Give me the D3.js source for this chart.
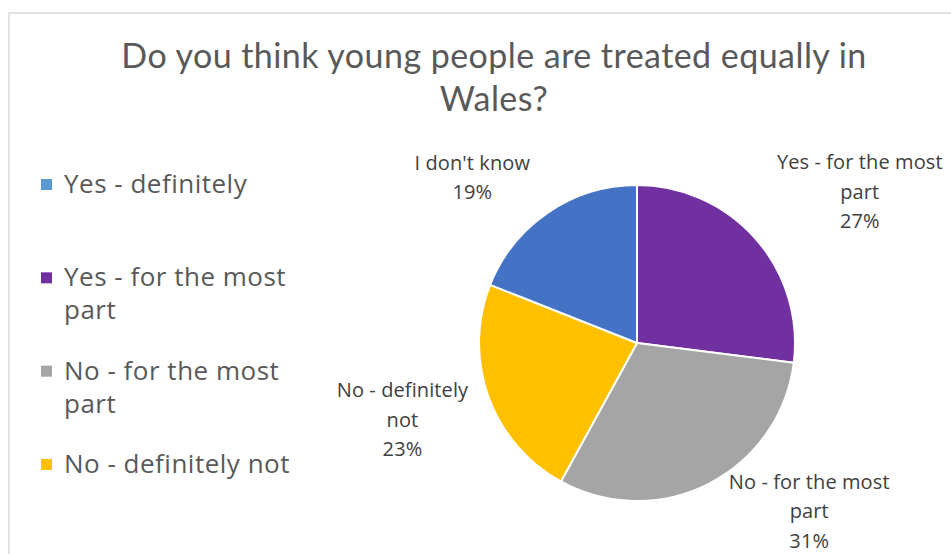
<!DOCTYPE html>
<html>
<head>
<meta charset="utf-8">
<script src="https://cdn.jsdelivr.net/npm/d3@7"></script>
<style>
  html, body { margin: 0; padding: 0; background: #ffffff; }
  svg { display: block; }
  text { font-family: "Open Sans", Lato, sans-serif; }
  .title { font-family: Lato, "Open Sans", sans-serif; }
</style>
</head>
<body>
<svg id="chart" width="951" height="554"></svg>
<script>
// Survey answers, in the order the slices are drawn (clockwise from 12 o'clock)
const categories = [
  "Yes - definitely",
  "Yes - for the most part",
  "No - for the most part",
  "No - definitely not",
  "I don't know"
];
const percentages = [0, 27, 31, 23, 19];
const legendCategories = [
  "Yes - definitely",
  "Yes - for the most part",
  "No - for the most part",
  "No - definitely not"
];
const titleLines = ["Do you think young people are treated equally in", "Wales?"];

const colours = d3.scaleOrdinal()
  .domain(categories)
  .range(["#5B9BD5", "#7030A0", "#A5A5A5", "#FFC000", "#4472C4"]);

const svg = d3.select("#chart");
const W = 951, H = 554;

// chart frame
svg.append("path")
  .attr("d", `M9,${H} V13 H${W}`)
  .attr("fill", "none")
  .attr("stroke", "#e3e3e3")
  .attr("stroke-width", 2);

// title
svg.append("g").selectAll("text")
  .data(titleLines)
  .join("text")
  .attr("class", "title")
  .attr("x", 494)
  .attr("y", (d, i) => 68 + i * 43)
  .attr("text-anchor", "middle")
  .attr("font-size", 34)
  .attr("letter-spacing", 0.45)
  .attr("fill", "#595959")
  .text(d => d);

// pie
const cx = 637, cy = 343, radius = 158;
const rows = categories.map((c, i) => ({ category: c, value: percentages[i] }));
const pie = d3.pie().sort(null).value(d => d.value);
const arcs = pie(rows);
const arc = d3.arc().innerRadius(0).outerRadius(radius);

const g = svg.append("g").attr("transform", `translate(${cx},${cy})`);
g.selectAll("path")
  .data(arcs.filter(d => d.data.value > 0))
  .join("path")
  .attr("d", arc)
  .attr("fill", d => colours(d.data.category))
  .attr("stroke", "#ffffff")
  .attr("stroke-width", 2)
  .attr("stroke-linejoin", "round");

// data labels: category wrapped on two lines plus the percentage
const labelLines = {
  "Yes - for the most part": ["Yes - for the most", "part"],
  "No - for the most part": ["No - for the most", "part"],
  "No - definitely not": ["No - definitely", "not"],
  "I don't know": ["I don't know"]
};
// best-fit placement outside the pie: start on the slice's middle ray, then nudge
const labelArc = d3.arc().innerRadius(radius + 87).outerRadius(radius + 87);
const labelNudge = {
  "Yes - for the most part": [39, 11],
  "No - for the most part": [61, -50],
  "No - definitely not": [-4, -6],
  "I don't know": [-27, 37]
};
const lineH = 29.5;
const labels = g.selectAll("g.label")
  .data(arcs.filter(d => d.data.value > 0))
  .join("g")
  .attr("class", "label")
  .attr("transform", d => {
    const [x, y] = labelArc.centroid(d);
    const [nx, ny] = labelNudge[d.data.category];
    return `translate(${x + nx},${y + ny})`;
  });
labels.each(function (d) {
  const lines = labelLines[d.data.category].concat([d.data.value + "%"]);
  const top = -((lines.length - 1) * lineH) / 2 + 7;
  d3.select(this).selectAll("text")
    .data(lines)
    .join("text")
    .attr("x", 0)
    .attr("y", (t, i) => top + i * lineH)
    .attr("text-anchor", "middle")
    .attr("font-size", 20)
    .attr("letter-spacing", 0.1)
    .attr("fill", "#404040")
    .text(t => t);
});

// legend
const legendWrap = {
  "Yes - definitely": ["Yes - definitely"],
  "Yes - for the most part": ["Yes - for the most", "part"],
  "No - for the most part": ["No - for the most", "part"],
  "No - definitely not": ["No - definitely not"]
};
const legendStep = d3.scalePoint().domain(legendCategories).range([193, 473]);
const legend = svg.append("g").selectAll("g")
  .data(legendCategories)
  .join("g")
  .attr("transform", d => `translate(41,${legendStep(d)})`);
legend.append("rect")
  .attr("x", 0)
  .attr("y", -14)
  .attr("width", 11)
  .attr("height", 11)
  .attr("fill", d => colours(d));
legend.each(function (d) {
  d3.select(this).selectAll("text")
    .data(legendWrap[d])
    .join("text")
    .attr("x", 23)
    .attr("y", (t, i) => i * 33)
    .attr("font-size", 26)
    .attr("letter-spacing", 0.5)
    .attr("fill", "#595959")
    .text(t => t);
});
</script>
</body>
</html>
